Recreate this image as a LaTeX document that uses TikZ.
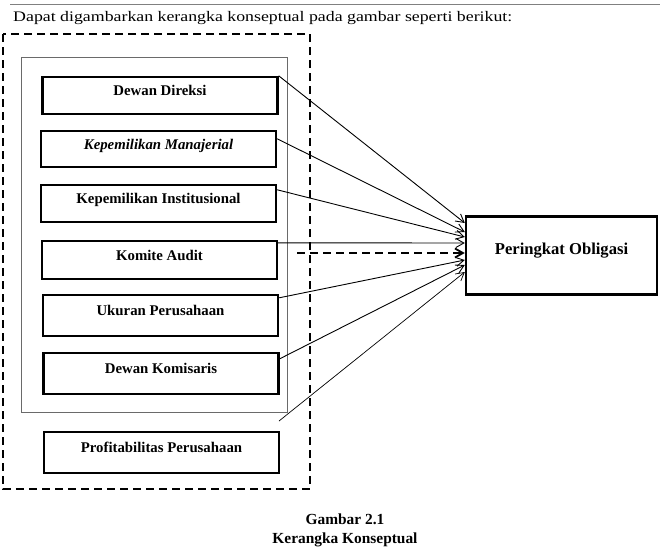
\documentclass[tikz,border=0pt]{standalone}
\usepackage{fontspec}
\setmainfont{Liberation Serif}
\usepackage{xcolor}
\definecolor{rule-gray}{HTML}{808080}
\definecolor{frame-gray}{HTML}{6A6A6A}
\usepackage{tikz}
\usetikzlibrary{arrows.meta}

\tikzset{
    varbox/.style={draw, line width=2.4pt, minimum width=235pt, inner sep=0pt,
        font=\bfseries\fontsize{14.8}{16}\selectfont, text height=8pt, text depth=8pt},
    targetbox/.style={draw, line width=2.4pt, minimum width=191pt, minimum height=78pt, inner sep=0pt,
        font=\bfseries\fontsize{16.6}{18}\selectfont, text height=7pt, text depth=10pt},
    link/.style={line width=0.9pt, -{Straight Barb[length=8pt,width=9pt]}},
    dashlink/.style={line width=1.8pt, dash pattern=on 8pt off 5pt, -{Straight Barb[length=8pt,width=9pt]}},
    caption/.style={font=\bfseries\fontsize{15.4}{17}\selectfont, anchor=base, inner sep=0pt}
}

\begin{document}
\begin{tikzpicture}[x=1pt, y=-1pt]

    % Page
    \useasboundingbox (0, 0) rectangle (660, 552);
    \draw[rule-gray, line width=1.2pt] (10, 4.5) -- (660, 4.5);
    \node[anchor=base west, inner sep=0pt, xscale=1.22, transform shape,
        font=\fontsize{14.6}{17}\selectfont] (intro) at (13, 21.5)
        {Dapat digambarkan kerangka konseptual pada gambar seperti berikut:};

    % Frames
    \draw[line width=2pt, dash pattern=on 8pt off 5pt] (3, 34) rectangle (310, 489);
    \draw[frame-gray, line width=0.9pt] (21, 57) rectangle (287, 412);

    % Variables
    \node[varbox, minimum height=37pt] (dd) at (160, 95.5) {Dewan Direksi};
    \node[varbox, minimum height=36pt] (km) at (158.5, 149) {\itshape Kepemilikan Manajerial};
    \node[varbox, minimum height=37pt] (ki) at (158.5, 203.5) {Kepemilikan Institusional};
    \node[varbox, minimum height=38pt] (ka) at (159.5, 260) {Komite Audit};
    \node[varbox, minimum height=41pt] (up) at (160.5, 315.5) {Ukuran Perusahaan};
    \node[varbox, minimum height=41pt] (dk) at (161, 373.5) {Dewan Komisaris};
    \node[varbox, minimum height=41pt] (pp) at (161.5, 452.5) {Profitabilitas Perusahaan};

    % Target
    \node[targetbox] (po) at (561.5, 255.5) {Peringkat Obligasi};

    % Arrows
    \draw[link] (dd.north east) -- ([yshift=32.5pt]po.west);
    \draw[link] ([yshift=-9pt]km.north east) -- ([yshift=23.5pt]po.west);
    \draw[link] ([yshift=-6pt]ki.north east) -- ([yshift=18.5pt]po.west);
    \draw[link] ([yshift=-3pt]ka.north east) -- ([yshift=12.5pt]po.west);
    \draw[link] ([yshift=-4pt]up.north east) -- ([yshift=-4.5pt]po.west);
    \draw[link] ([yshift=-7pt]dk.north east) -- ([yshift=-9.5pt]po.west);

    \coordinate (frame-end) at (279, 421);
    \draw[link, line width=0.7pt] (frame-end) -- ([yshift=-16.5pt]po.west);

    \coordinate (dash-start) at (297, 253);
    \draw[dashlink] (dash-start) -- ([yshift=2.5pt]po.west);

    % Caption
    \node[caption] (fig) at (345, 524) {Gambar 2.1};
    \node[caption] (title) at (345, 543) {Kerangka Konseptual};

\end{tikzpicture}
\end{document}
